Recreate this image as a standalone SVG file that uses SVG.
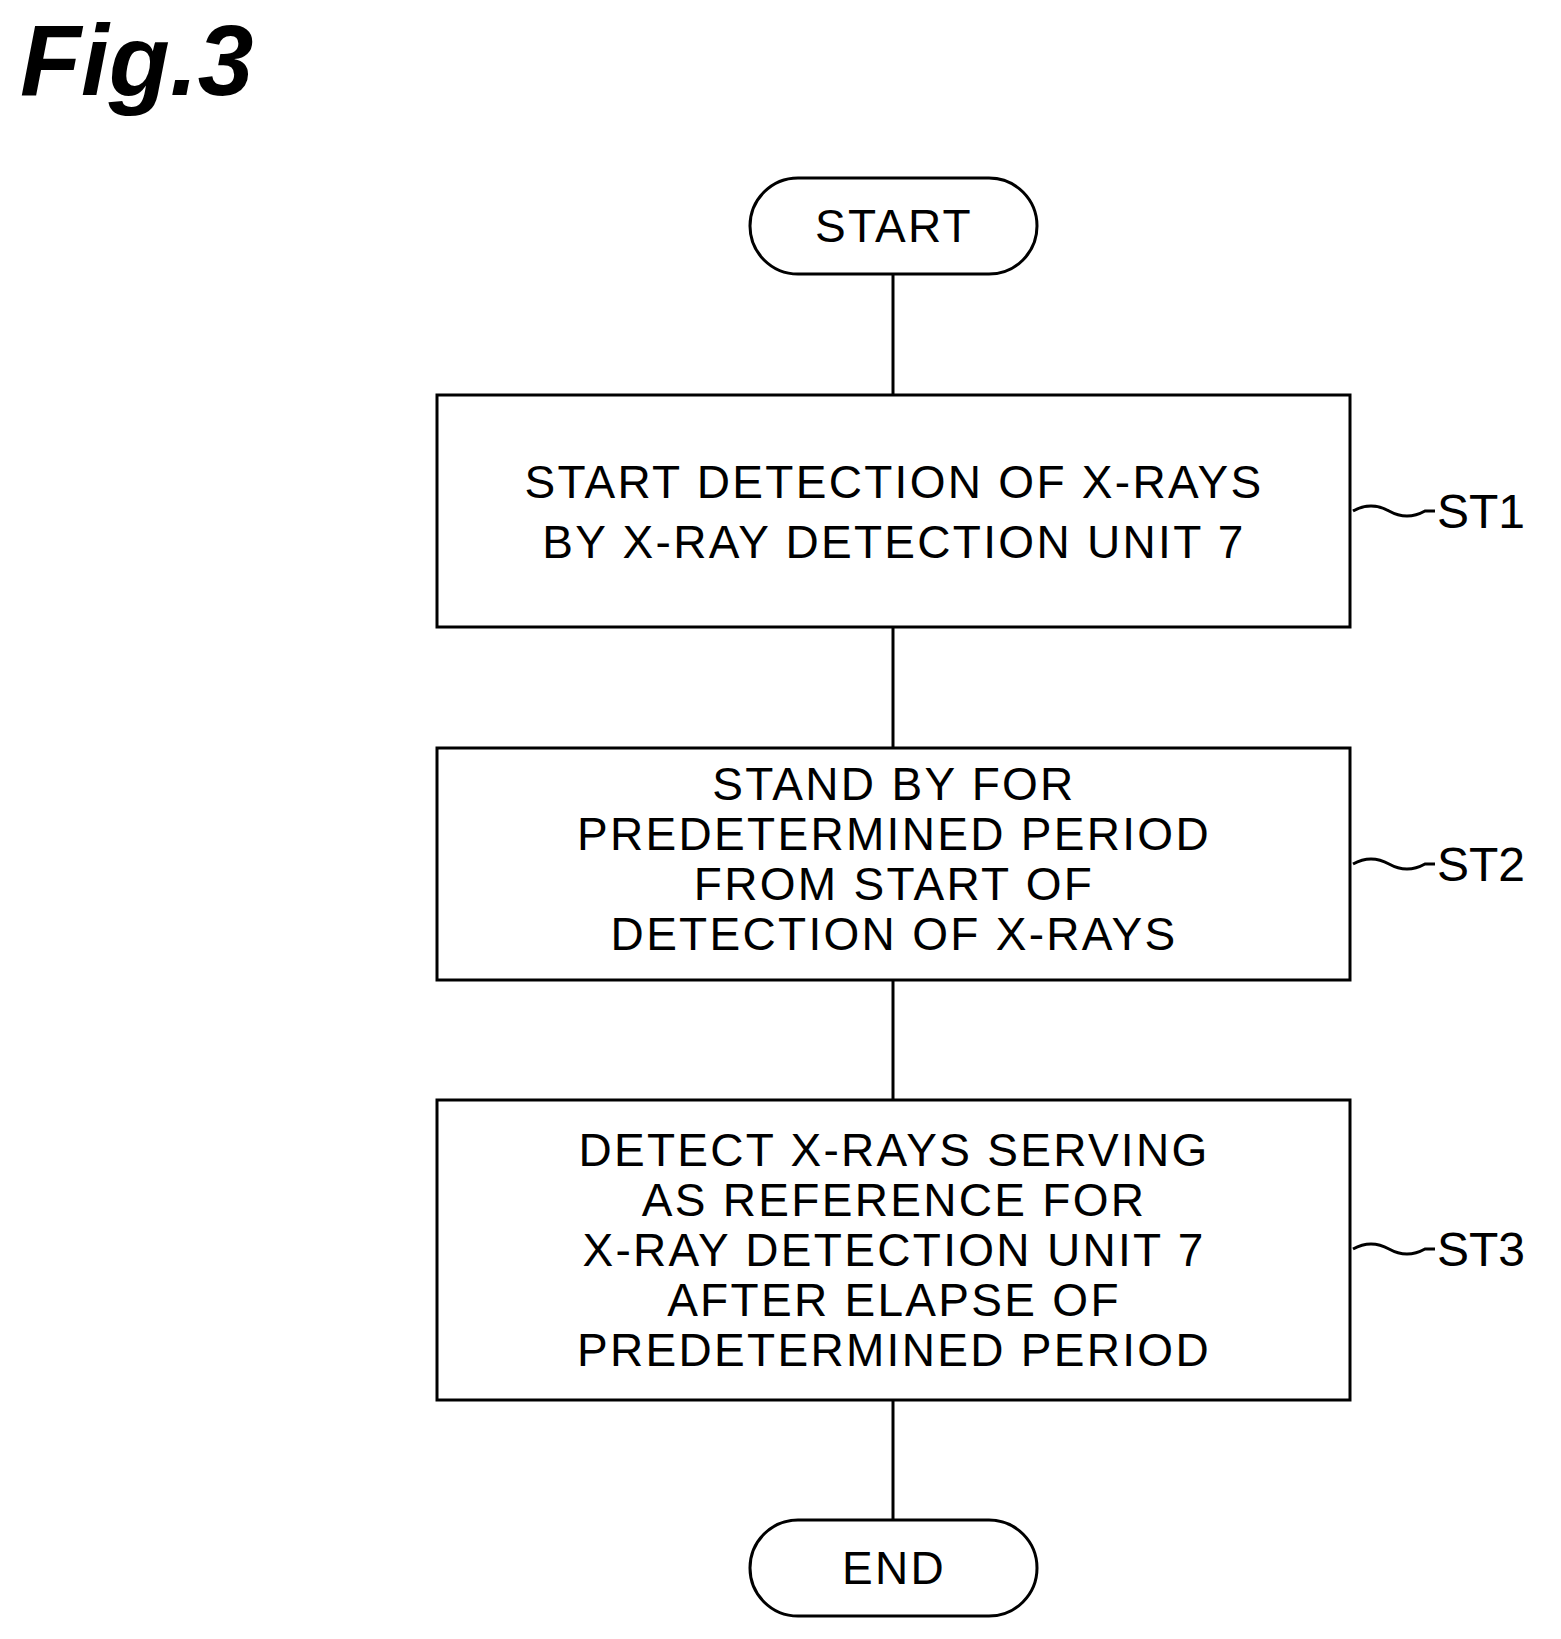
<svg xmlns="http://www.w3.org/2000/svg" width="1561" height="1639" viewBox="0 0 1561 1639">
<style>
.b{fill:#fff;stroke:#000;stroke-width:3}
.t{font-family:"Liberation Sans",Arial,sans-serif;font-size:46px;letter-spacing:2.3px;text-anchor:middle;fill:#000}
.l{font-family:"Liberation Sans",Arial,sans-serif;font-size:48px;fill:#000}
.c{fill:none;stroke:#000;stroke-width:3}
</style>
<rect width="1561" height="1639" fill="#fff"/>
<text x="20" y="95" font-family="Liberation Sans,Arial,sans-serif" font-size="100" font-weight="bold" font-style="italic">Fig.3</text>
<g id="connectors">
<line class="c" x1="893" y1="274" x2="893" y2="395"/>
<line class="c" x1="893" y1="627" x2="893" y2="748"/>
<line class="c" x1="893" y1="980" x2="893" y2="1100"/>
<line class="c" x1="893" y1="1400" x2="893" y2="1520"/>
<path class="c" d="M1353 511 q18 -10 36 0 t36 0 l10 0"/>
<path class="c" d="M1353 864 q18 -10 36 0 t36 0 l10 0"/>
<path class="c" d="M1353 1249 q18 -10 36 0 t36 0 l10 0"/>
</g>
<g id="start"><rect class="b" x="750" y="178" width="287" height="96" rx="48"/><text class="t" x="894" y="242">START</text></g>
<g id="st1"><rect class="b" x="437" y="395" width="913" height="232"/>
<text class="t" x="894" y="498">START DETECTION OF X-RAYS</text><text class="t" x="894" y="558">BY X-RAY DETECTION UNIT 7</text>
<text class="l" x="1437" y="528">ST1</text></g>
<g id="st2"><rect class="b" x="437" y="748" width="913" height="232"/>
<text class="t" x="894" y="800">STAND BY FOR</text><text class="t" x="894" y="850">PREDETERMINED PERIOD</text><text class="t" x="894" y="900">FROM START OF</text><text class="t" x="894" y="950">DETECTION OF X-RAYS</text>
<text class="l" x="1437" y="881">ST2</text></g>
<g id="st3"><rect class="b" x="437" y="1100" width="913" height="300"/>
<text class="t" x="894" y="1166">DETECT X-RAYS SERVING</text><text class="t" x="894" y="1216">AS REFERENCE FOR</text><text class="t" x="894" y="1266">X-RAY DETECTION UNIT 7</text><text class="t" x="894" y="1316">AFTER ELAPSE OF</text><text class="t" x="894" y="1366">PREDETERMINED PERIOD</text>
<text class="l" x="1437" y="1266">ST3</text></g>
<g id="end"><rect class="b" x="750" y="1520" width="287" height="96" rx="48"/><text class="t" x="894" y="1584">END</text></g>
</svg>
